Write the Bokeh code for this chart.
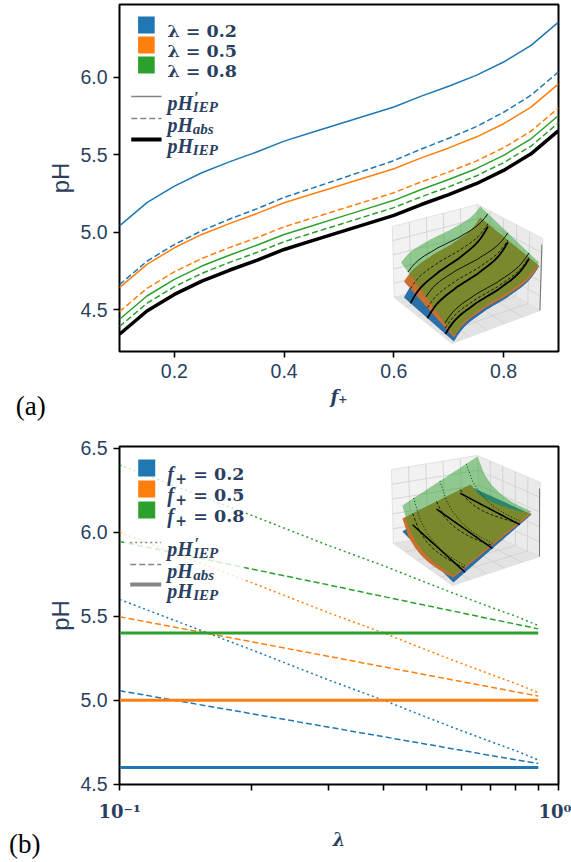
import math
import numpy as np
from bokeh.plotting import figure
from bokeh.models import (Range1d, FixedTicker, NumeralTickFormatter,
                          CustomJSTickFormatter, Label)
from bokeh.layouts import column
from bokeh.embed import file_html
from bokeh.resources import INLINE

# ---------------- panel (a) data ----------------
f_plus = [0.10, 0.15, 0.20, 0.25, 0.30, 0.35, 0.40, 0.45, 0.50,
          0.55, 0.60, 0.65, 0.70, 0.75, 0.80, 0.85, 0.90]
ph_iep = [4.343, 4.493, 4.600, 4.686, 4.756, 4.820, 4.890, 4.945, 5.000,
          5.055, 5.110, 5.180, 5.244, 5.314, 5.400, 5.507, 5.657]
ph_prime_l02 = [5.042, 5.192, 5.299, 5.385, 5.455, 5.519, 5.589, 5.644, 5.699,
                5.754, 5.809, 5.879, 5.943, 6.013, 6.099, 6.206, 6.356]
ph_prime_l05 = [4.644, 4.794, 4.901, 4.987, 5.057, 5.121, 5.191, 5.246, 5.301,
                5.356, 5.411, 5.481, 5.545, 5.615, 5.701, 5.808, 5.958]
ph_prime_l08 = [4.440, 4.590, 4.697, 4.783, 4.853, 4.917, 4.987, 5.042, 5.097,
                5.152, 5.207, 5.277, 5.341, 5.411, 5.497, 5.604, 5.754]
ph_abs_l02 = [4.663, 4.814, 4.922, 5.011, 5.085, 5.152, 5.226, 5.284, 5.343,
              5.403, 5.463, 5.538, 5.607, 5.682, 5.775, 5.885, 6.035]
ph_abs_l05 = [4.489, 4.639, 4.746, 4.832, 4.902, 4.966, 5.036, 5.091, 5.146,
              5.201, 5.256, 5.326, 5.390, 5.460, 5.546, 5.653, 5.803]
ph_abs_l08 = [4.393, 4.543, 4.650, 4.736, 4.806, 4.870, 4.940, 4.995, 5.050,
              5.105, 5.160, 5.230, 5.294, 5.364, 5.450, 5.557, 5.707]
a_ticks_x = [0.2, 0.4, 0.6, 0.8]
a_ticks_y = [4.5, 5.0, 5.5, 6.0]
a_legend_labels = ["λ = 0.2", "λ = 0.5", "λ = 0.8"]

# ---------------- panel (b) data ----------------
lam = [0.1, 0.2, 0.3, 0.4, 0.5, 0.6, 0.7, 0.8, 0.9]
b_iep_f02 = [4.60, 4.60, 4.60, 4.60, 4.60, 4.60, 4.60, 4.60, 4.60]
b_iep_f05 = [5.00, 5.00, 5.00, 5.00, 5.00, 5.00, 5.00, 5.00, 5.00]
b_iep_f08 = [5.40, 5.40, 5.40, 5.40, 5.40, 5.40, 5.40, 5.40, 5.40]
b_prime_f02 = [5.600, 5.300, 5.120, 5.000, 4.900, 4.820, 4.755, 4.700, 4.645]
b_prime_f05 = [6.000, 5.700, 5.520, 5.400, 5.300, 5.220, 5.155, 5.100, 5.045]
b_prime_f08 = [6.400, 6.100, 5.920, 5.800, 5.700, 5.620, 5.555, 5.500, 5.445]
b_abs_f02 = [5.057, 4.920, 4.840, 4.783, 4.739, 4.703, 4.672, 4.646, 4.624]
b_abs_f05 = [5.497, 5.348, 5.261, 5.199, 5.151, 5.112, 5.079, 5.050, 5.025]
b_abs_f08 = [5.945, 5.781, 5.686, 5.617, 5.564, 5.521, 5.484, 5.453, 5.425]
b_ticks_x = [0.1, 1.0]
b_tick_labels_x = ["10⁻¹", "10⁰"]
b_minor_x = [0.2, 0.3, 0.4, 0.5, 0.6, 0.7, 0.8, 0.9]
b_ticks_y = [4.5, 5.0, 5.5, 6.0, 6.5]
b_legend_values = ["= 0.2", "= 0.5", "= 0.8"]

# ---------------- styles ----------------
BLUE, ORANGE, GREEN = "#1f77b4", "#ff7f0e", "#2ca02c"
NAVY = "#2a3f5f"
GREY = "#858585"
COLORS = [BLUE, ORANGE, GREEN]
DASH = "6 3"
DOT = "2 3"
SHEET_BLUE, SHEET_ORANGE = "#2a6fa8", "#c87030"


def make_mapper(box, xr, yr, logx=False):
    L, T, R, B = box

    def m(px, py):
        u = (px - L) / (R - L)
        v = (py - T) / (B - T)
        if logx:
            lx = math.log10(xr[0]) + u * (math.log10(xr[1]) - math.log10(xr[0]))
            x = 10 ** lx
        else:
            x = xr[0] + u * (xr[1] - xr[0])
        return x, yr[1] - v * (yr[1] - yr[0])
    return m


def txt(p, m, px, py, text, size, style="bold", font="DejaVu Serif",
        color=NAVY, align="left", place="center"):
    x, y = m(px, py)
    lab = Label(x=x, y=y, text=text, text_font=font,
                text_font_size=f"{size}px", text_font_style=style,
                text_color=color, text_align=align,
                text_baseline="alphabetic")
    p.add_layout(lab, place)


def seg(p, m, pts, **kw):
    xy = [m(a, b) for a, b in pts]
    p.line([q[0] for q in xy], [q[1] for q in xy], **kw)


def poly(p, m, pts, **kw):
    xy = [m(a, b) for a, b in pts]
    p.patch([q[0] for q in xy], [q[1] for q in xy], **kw)


def box(p, m, x0, y0, x1, y1, **kw):
    a = m(x0, y0)
    b = m(x1, y1)
    p.quad(left=a[0], right=b[0], top=a[1], bottom=b[1], **kw)


def style_axes(p):
    p.xgrid.visible = False
    p.ygrid.visible = False
    p.outline_line_color = "black"
    p.outline_line_width = 2
    p.outline_line_alpha = 1
    p.background_fill_color = "white"
    p.border_fill_color = "white"
    for ax in (p.xaxis[0], p.yaxis[0]):
        ax.axis_line_color = None
        ax.major_tick_line_color = "black"
        ax.major_tick_line_width = 1.6
        ax.major_tick_out = 6
        ax.major_tick_in = 0
        ax.minor_tick_line_color = None
        ax.major_label_text_font = "Liberation Sans"
        ax.major_label_text_font_size = "19.5px"
        ax.major_label_text_color = NAVY
        ax.major_label_standoff = 6
        ax.axis_label_text_color = NAVY
    p.yaxis[0].axis_label_text_font = "Liberation Sans"
    p.yaxis[0].axis_label_text_font_style = "normal"
    p.yaxis[0].axis_label_text_font_size = "24px"
    p.yaxis[0].axis_label_standoff = 3
    p.xaxis[0].axis_label_text_font = "DejaVu Serif"
    p.xaxis[0].axis_label_text_font_style = "bold italic"
    p.xaxis[0].axis_label_text_font_size = "18px"
    p.xaxis[0].axis_label_standoff = 5


def bilinear(c, s, t):
    p00, p10, p11, p01 = c
    return ((1 - s) * (1 - t) * p00[0] + s * (1 - t) * p10[0] + s * t * p11[0] + (1 - s) * t * p01[0],
            (1 - s) * (1 - t) * p00[1] + s * (1 - t) * p10[1] + s * t * p11[1] + (1 - s) * t * p01[1])


def draw_panes(p, m, TL, TB, TR, BR, BF, BL, C):
    poly(p, m, [TL, TB, C, BL], fill_color="#f2f2f2", line_color="#dddddd", line_width=0.8)
    poly(p, m, [TB, TR, BR, C], fill_color="#eaeaea", line_color="#dddddd", line_width=0.8)
    poly(p, m, [BL, C, BR, BF], fill_color="#e3e3e3", line_color="#dddddd", line_width=0.8)
    for quad in ([TL, TB, C, BL], [TB, TR, BR, C], [BL, C, BR, BF]):
        a, b, c, d = quad
        for k in range(1, 5):
            r = k / 5
            seg(p, m, [(a[0] + r * (b[0] - a[0]), a[1] + r * (b[1] - a[1])),
                       (d[0] + r * (c[0] - d[0]), d[1] + r * (c[1] - d[1]))],
                line_color="#cfcfcf", line_width=0.8)
            seg(p, m, [(a[0] + r * (d[0] - a[0]), a[1] + r * (d[1] - a[1])),
                       (b[0] + r * (c[0] - b[0]), b[1] + r * (c[1] - b[1]))],
                line_color="#cfcfcf", line_width=0.8)
    seg(p, m, [(TR[0] - 1, TR[1] + 6), BR], line_color="#555555", line_width=0.8)


def legend_lines(p, m, y_rows, dashes, widths, colors):
    for y, d, w, c in zip(y_rows, dashes, widths, colors):
        seg(p, m, [(130, y), (161, y)], line_color=c, line_width=w, line_dash=d)
    for y, sub in zip(y_rows, ("IEP", "abs", "IEP")):
        txt(p, m, 167, y + 6, "pH", 20, "bold italic", "Liberation Serif")
        txt(p, m, 193, y + 10.5, sub, 15, "bold italic", "Liberation Serif")
    txt(p, m, 194.5, y_rows[0] + 0.5, "′", 16, "bold", "Liberation Serif")


# ======================= panel (a) =======================
A_XR = (0.1, 0.9)
A_YR = (4.232, 6.470)
pa = figure(width=571, height=430, x_range=Range1d(*A_XR), y_range=Range1d(*A_YR),
            output_backend="svg", toolbar_location=None,
            min_border_left=118, min_border_right=4, min_border_top=4,
            min_border_bottom=79, x_axis_label="f₊", y_axis_label="pH")
style_axes(pa)
pa.xaxis[0].ticker = FixedTicker(ticks=a_ticks_x)
pa.yaxis[0].ticker = FixedTicker(ticks=a_ticks_y)
pa.xaxis[0].formatter = NumeralTickFormatter(format="0.0")
pa.yaxis[0].formatter = NumeralTickFormatter(format="0.0")

for prime, absv, col in ((ph_prime_l02, ph_abs_l02, BLUE),
                         (ph_prime_l05, ph_abs_l05, ORANGE),
                         (ph_prime_l08, ph_abs_l08, GREEN)):
    pa.line(f_plus, prime, line_color=col, line_width=1.5)
    pa.line(f_plus, absv, line_color=col, line_width=1.5, line_dash=DASH)
pa.line(f_plus, ph_iep, line_color="black", line_width=3.5)

ma = make_mapper((118, 4, 567, 351), A_XR, A_YR)

# legend (a)
for i, (lab, col) in enumerate(zip(a_legend_labels, COLORS)):
    box(pa, ma, 137, 16 + 20 * i, 154, 33 + 20 * i, fill_color=col, line_color=None)
    txt(pa, ma, 167, 30.5 + 20 * i, lab, 17.5)
legend_lines(pa, ma, (96, 118, 139), ("solid", DASH, "solid"), (1.5, 1.5, 4),
             (GREY, GREY, "black"))

# inset (a): stylised 3-D surfaces
draw_panes(pa, ma, (397, 226), (484, 204), (551, 238), (548, 310), (458, 343), (399, 297), (486, 275))
iep_norm = [(v - ph_iep[0]) / (ph_iep[-1] - ph_iep[0]) for v in ph_iep]


def shape_a(s):
    return float(np.interp(0.1 + 0.8 * s, f_plus, iep_norm))


def sheet_a(c, s, t):
    x, _ = bilinear(c, s, t)
    _, y = bilinear(c, shape_a(s), t)
    return x, y


def outline(sheet, c, n=24):
    pts = [sheet(c, k / n, 0) for k in range(n + 1)]
    pts += [sheet(c, 1, 1)]
    pts += [sheet(c, 1 - k / n, 1) for k in range(n + 1)]
    return pts


SA_BLUE = [(409, 297), (487, 220), (547, 266), (460, 341)]
SA_ORANGE = [(409, 281), (487, 217), (547, 265), (460, 337)]
SA_GREEN = [(406, 262), (487, 206), (547, 262), (460, 335)]
poly(pa, ma, outline(sheet_a, SA_BLUE), fill_color=SHEET_BLUE, line_color=None)
poly(pa, ma, outline(sheet_a, SA_ORANGE), fill_color=SHEET_ORANGE, line_color=None)
poly(pa, ma, outline(sheet_a, SA_GREEN), fill_color=GREEN, fill_alpha=0.5, line_color=None)
for t in (0.13, 0.47, 0.83):
    seg(pa, ma, [sheet_a(SA_BLUE, k / 24, t) for k in range(25)], line_color="black", line_width=1.8)
    seg(pa, ma, [sheet_a(SA_ORANGE, k / 24, t) for k in range(25)], line_color="black", line_width=0.8, line_dash="3 2")
    seg(pa, ma, [sheet_a(SA_GREEN, k / 24, t) for k in range(25)], line_color="black", line_width=0.9)

txt(pa, ma, 12, 405, "(a)", 27, "normal", "Liberation Serif", "black", place="left")

# ======================= panel (b) =======================
B_XR = (0.0999, 1.001)
B_YR = (4.499, 6.51)
pb = figure(width=571, height=432, x_axis_type="log",
            x_range=Range1d(*B_XR), y_range=Range1d(*B_YR),
            output_backend="svg", toolbar_location=None,
            min_border_left=119, min_border_right=13, min_border_top=16,
            min_border_bottom=78, x_axis_label="λ", y_axis_label="pH")
style_axes(pb)
pb.xaxis[0].ticker = FixedTicker(ticks=b_ticks_x, minor_ticks=b_minor_x)
pb.xaxis[0].formatter = CustomJSTickFormatter(
    args=dict(tick_vals=b_ticks_x, tick_texts=b_tick_labels_x),
    code="""
let best = 0, bd = Infinity;
for (let i = 0; i < tick_vals.length; i++) {
  const d = Math.abs(Math.log10(tick_vals[i]) - Math.log10(tick));
  if (d < bd) { bd = d; best = i; }
}
return tick_texts[best];
""")
pb.xaxis[0].major_label_text_font = "DejaVu Serif"
pb.xaxis[0].major_label_text_font_style = "bold"
pb.xaxis[0].major_label_text_font_size = "18px"
pb.xaxis[0].major_label_standoff = 10
pb.xaxis[0].axis_label_standoff = 4
pb.xaxis[0].minor_tick_line_color = "black"
pb.xaxis[0].minor_tick_line_width = 1.6
pb.xaxis[0].minor_tick_out = 6
pb.xaxis[0].minor_tick_in = 0
pb.yaxis[0].ticker = FixedTicker(ticks=b_ticks_y)
pb.yaxis[0].formatter = NumeralTickFormatter(format="0.0")

for iep, prime, absv, col in ((b_iep_f02, b_prime_f02, b_abs_f02, BLUE),
                              (b_iep_f05, b_prime_f05, b_abs_f05, ORANGE),
                              (b_iep_f08, b_prime_f08, b_abs_f08, GREEN)):
    pb.line(lam, prime, line_color=col, line_width=1.5, line_dash=DOT)
    pb.line(lam, absv, line_color=col, line_width=1.5, line_dash=DASH)
    pb.line(lam, iep, line_color=col, line_width=3)

mb = make_mapper((119.3, 446, 558, 784), B_XR, B_YR, logx=True)

# legend (b) with translucent background
box(pb, mb, 124, 451, 244, 598, fill_color="white", fill_alpha=0.8, line_color=None)
for i, (lab, col) in enumerate(zip(b_legend_values, COLORS)):
    box(pb, mb, 138, 459 + 21 * i, 155, 476 + 21 * i, fill_color=col, line_color=None)
    txt(pb, mb, 167, 473 + 21 * i, "f", 20, "bold italic", "Liberation Serif")
    txt(pb, mb, 175, 477.5 + 21 * i, "+", 14, "bold", "DejaVu Serif")
    txt(pb, mb, 193, 473 + 21 * i, lab, 17.5)
legend_lines(pb, mb, (542, 564, 584), (DOT, DASH, "solid"), (1.5, 1.5, 4),
             (GREY, GREY, GREY))

# inset (b): stylised 3-D surfaces
draw_panes(pb, mb, (391, 469), (477, 455), (540, 482), (539, 556), (452, 585), (393, 543), (479, 529))
pr_norm = [(v - b_prime_f05[0]) / (b_prime_f05[-1] - b_prime_f05[0]) for v in b_prime_f05]
ab_norm = [(v - b_abs_f05[0]) / (b_abs_f05[-1] - b_abs_f05[0]) for v in b_abs_f05]
lam_pos = [(v - lam[0]) / (lam[-1] - lam[0]) for v in lam]


def make_sheet_b(norm):
    def sh(c, s, t):
        x, _ = bilinear(c, s, t)
        tt = float(np.interp(t, lam_pos, norm)) if norm is not None else t
        _, y = bilinear(c, s, tt)
        return x, y
    return sh


def outline_b(sheet, c, n=24):
    pts = [sheet(c, 0, k / n) for k in range(n + 1)]
    pts += [sheet(c, 1, 1 - k / n) for k in range(n + 1)]
    return pts


SB_BLUE = [(402, 531), (470, 486), (531, 514), (453, 582)]
SB_ORANGE = [(402, 518), (470, 484), (531, 513), (453, 577)]
SB_GREEN = [(402, 505), (477, 456), (531, 511), (453, 575)]
sh_blue, sh_or, sh_gr = make_sheet_b(None), make_sheet_b(ab_norm), make_sheet_b(pr_norm)
poly(pb, mb, outline_b(sh_blue, SB_BLUE), fill_color=SHEET_BLUE, line_color=None)
poly(pb, mb, outline_b(sh_or, SB_ORANGE), fill_color=SHEET_ORANGE, line_color=None)
poly(pb, mb, outline_b(sh_gr, SB_GREEN), fill_color=GREEN, fill_alpha=0.5, line_color=None)
for s in (0.15, 0.5, 0.85):
    seg(pb, mb, [sh_blue(SB_BLUE, s, k / 24) for k in range(25)], line_color="black", line_width=1.5)
    seg(pb, mb, [sh_or(SB_ORANGE, s, k / 24) for k in range(25)], line_color="black", line_width=0.8, line_dash="3 2")
    seg(pb, mb, [sh_gr(SB_GREEN, s, k / 24) for k in range(25)], line_color="black", line_width=0.8, line_dash="1 2")

txt(pb, mb, 9, 843, "(b)", 27, "normal", "Liberation Serif", "black", place="left")

layout = column(pa, pb)
open("out.html", "w").write(file_html(layout, INLINE))
